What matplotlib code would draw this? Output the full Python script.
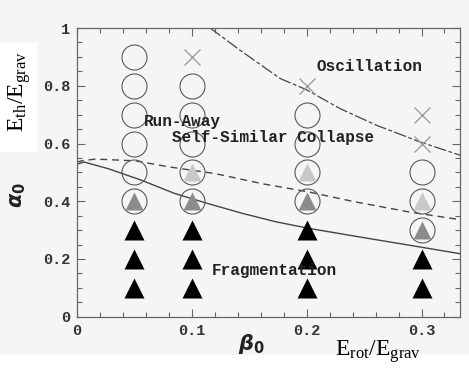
import matplotlib
matplotlib.use("Agg")
import matplotlib.pyplot as plt
from matplotlib.patches import Rectangle

# Simulated models: (beta0, alpha0) grouped by outcome
open_beta = [0.05, 0.05, 0.05, 0.05, 0.05, 0.1, 0.1, 0.1, 0.2, 0.2, 0.3]
open_alpha = [0.9, 0.8, 0.7, 0.6, 0.5, 0.8, 0.7, 0.6, 0.7, 0.6, 0.5]

cross_beta = [0.1, 0.2, 0.3, 0.3]
cross_alpha = [0.9, 0.8, 0.7, 0.6]

light_beta = [0.1, 0.2, 0.3]
light_alpha = [0.5, 0.5, 0.4]

dark_beta = [0.05, 0.1, 0.2, 0.3]
dark_alpha = [0.4, 0.4, 0.4, 0.3]

frag_beta = [0.05, 0.05, 0.05, 0.1, 0.1, 0.1, 0.2, 0.2, 0.2, 0.3, 0.3]
frag_alpha = [0.3, 0.2, 0.1, 0.3, 0.2, 0.1, 0.3, 0.2, 0.1, 0.2, 0.1]

# Boundary curves between regimes
osc_beta = [0.116, 0.142, 0.177, 0.2, 0.229, 0.261, 0.299, 0.334]
osc_alpha = [1.0, 0.923, 0.825, 0.786, 0.721, 0.663, 0.605, 0.559]

ss_beta = [0.0, 0.004, 0.016, 0.051, 0.08, 0.12, 0.161, 0.202, 0.242, 0.289, 0.334]
ss_alpha = [0.535, 0.54, 0.546, 0.54, 0.519, 0.496, 0.461, 0.432, 0.398, 0.363, 0.336]

fr_beta = [0.0, 0.006, 0.027, 0.056, 0.085, 0.114, 0.144, 0.173, 0.202, 0.245, 0.289, 0.334]
fr_alpha = [0.528, 0.536, 0.513, 0.473, 0.427, 0.392, 0.358, 0.329, 0.306, 0.277, 0.248, 0.218]

x_ticks = [0, 0.1, 0.2, 0.3]
x_ticklabels = ["0", "0.1", "0.2", "0.3"]
y_ticks = [0, 0.2, 0.4, 0.6, 0.8, 1.0]
y_ticklabels = ["0", "0.2", "0.4", "0.6", "0.8", "1"]

bg = "#f5f5f5"
fig = plt.figure(figsize=(4.69, 3.69), dpi=100, facecolor=bg)
ax = fig.add_axes([0.1642, 0.1417, 0.8166, 0.7823], facecolor=bg)

line_col = "#454545"
ax.plot(osc_beta, osc_alpha, color=line_col, lw=0.9, dashes=[10, 2, 3, 2])
ax.plot(ss_beta, ss_alpha, color=line_col, lw=1.0, dashes=[5, 3.5])
ax.plot(fr_beta, fr_alpha, color=line_col, lw=1.0)

circ_kw = dict(ls="none", marker="o", ms=18, mfc="none", mec="#5a5a5a", mew=0.8)
ax.plot(open_beta, open_alpha, **circ_kw)
ax.plot(light_beta, light_alpha, **circ_kw)
ax.plot(dark_beta, dark_alpha, **circ_kw)
ax.plot(light_beta, light_alpha, ls="none", marker="^", ms=13,
        mfc="#c8c8c8", mec="none")
ax.plot(dark_beta, dark_alpha, ls="none", marker="^", ms=13,
        mfc="#8c8c8c", mec="none")
ax.plot(frag_beta, frag_alpha, ls="none", marker="^", ms=15,
        mfc="black", mec="none")
ax.plot(cross_beta, cross_alpha, ls="none", marker="x", ms=12,
        mec="#a0a0a0", mew=1.0)

ax.set_xlim(0, 0.3335)
ax.set_ylim(0, 1)

tick_font = dict(family="Liberation Mono", weight="bold", size=11, color="#333333")
ax.set_xticks(x_ticks)
ax.set_xticklabels(x_ticklabels, **tick_font)
ax.set_yticks(y_ticks)
ax.set_yticklabels(y_ticklabels, **tick_font)
ax.set_xticks([i * 0.02 for i in range(17)], minor=True)
ax.set_yticks([i * 0.05 for i in range(21)], minor=True)
ax.tick_params(which="both", direction="in", top=True, right=True,
               color="#666666", width=0.8)
ax.tick_params(which="major", length=6, pad=5)
ax.tick_params(which="minor", length=3.5)
for s in ax.spines.values():
    s.set_color("#666666")
    s.set_linewidth(0.9)

region_font = dict(family="Liberation Mono", weight="bold", size=11.5,
                   color="#222222", ha="center", va="center")
ax.text(0.2546, 0.867, "Oscillation", **region_font)
ax.text(0.092, 0.675, "Run-Away", **region_font)
ax.text(0.171, 0.62, "Self-Similar Collapse", **region_font)
ax.text(0.172, 0.16, "Fragmentation", **region_font)

# Greek axis labels
fig.text(18 / 469, 1 - 195 / 369, r"$\boldsymbol{\alpha}_\mathbf{0}$",
         rotation=90, ha="center", va="center", size=15, color="#222222")
fig.text(251 / 469, 1 - 344 / 369, r"$\boldsymbol{\beta}_\mathbf{0}$",
         ha="center", va="center", size=15, color="#222222")

# Energy ratio labels on white patches
fig.patches.append(Rectangle((0, 1 - 152 / 369), 37 / 469, 109 / 369,
                             transform=fig.transFigure, facecolor="white",
                             edgecolor="none", zorder=0.5))
fig.patches.append(Rectangle((0, 0), 1, 14 / 369,
                             transform=fig.transFigure, facecolor="white",
                             edgecolor="none", zorder=0.5))
plt.rcParams["mathtext.fontset"] = "custom"
plt.rcParams["mathtext.rm"] = "Liberation Serif"
fig.text(20 / 469, 1 - 92 / 369, r"$\mathrm{E_{th}/E_{grav}}$", rotation=90,
         ha="center", va="center", size=17, color="black", zorder=3)
fig.text(378 / 469, 1 - 352 / 369, r"$\mathrm{E_{rot}/E_{grav}}$",
         ha="center", va="center", size=17, color="black", zorder=3)

fig.savefig("out.png", dpi=100, facecolor=bg)
